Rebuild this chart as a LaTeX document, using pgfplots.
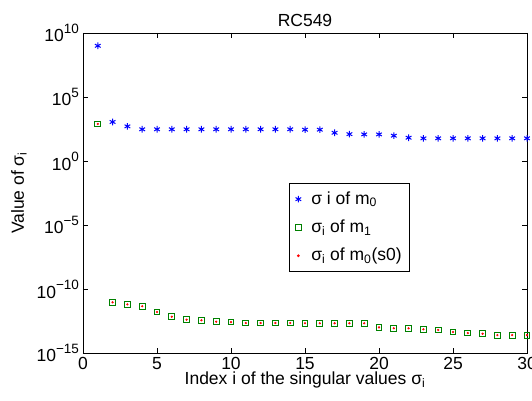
\documentclass[border=0pt]{standalone}
\usepackage{fontspec}
\setmainfont{Liberation Sans}
\usepackage{pgfplots}
\pgfplotsset{compat=1.18}
\newcommand{\ex}[1]{10\raisebox{0.5em}{\fontsize{13.5}{13.5}\selectfont #1}}
\begin{document}
\fontsize{17.5}{21}\selectfont
\begin{tikzpicture}
\begin{axis}[
  scale only axis, width=444pt, height=320pt,
  font=\fontsize{17.5}{21}\selectfont,
  xmin=0, xmax=30, ymode=log, log basis y=10, ymin=1e-15, ymax=1e10,
  xtick={0,5,...,30},
  ytick={1e-15,1e-10,1e-5,1,1e5,1e10},
  yticklabels={\ex{−15},\ex{−10},\ex{−5},\ex{0},\ex{5},\ex{10}},
  minor tick num=0, minor ytick={},
  tick align=inside, major tick length=5pt,
  /pgf/number format/assume math mode=true,
  tick label style={font=\fontsize{17.5}{21}\selectfont},
  xticklabel style={yshift=2pt},
  yticklabel style={xshift=2pt},
  axis line style={line width=0.9pt},
  every tick/.style={black, line width=0.7pt},
  title={RC549}, title style={yshift=-6pt},
  xlabel={Index i of the singular values σ\textsubscript{i}},
  ylabel={Value of σ\textsubscript{i}},
  xlabel style={yshift=9pt},
  ylabel style={yshift=-2pt},
  legend style={at={(0.464,0.531)}, anchor=north west, draw=black, line width=0.9pt,
    font=\fontsize{17.5}{21}\selectfont, row sep=9pt, inner xsep=6pt, inner ysep=6pt,
    legend cell align=left},
]
\addplot[only marks, color=blue, mark=asterisk, mark size=3.3pt, line width=1pt] coordinates {
(1,1e9) (2,1.12e3) (3,5.1e2) (4,3.0e2) (5,3.0e2) (6,3.0e2) (7,3.0e2) (8,3.0e2) (9,3.0e2) (10,3.0e2)
(11,3.0e2) (12,3.0e2) (13,3.0e2) (14,3.0e2) (15,2.8e2) (16,2.8e2) (17,1.6e2) (18,1.25e2) (19,1.2e2) (20,1.2e2)
(21,9.5e1) (22,6.6e1) (23,5.9e1) (24,5.9e1) (25,5.9e1) (26,5.9e1) (27,5.9e1) (28,5.9e1) (29,5.9e1) (30,5.9e1)};
\addlegendentry{\hspace{8pt}σ i of m\textsubscript{0}}
\addplot[only marks, color=green!50!black, mark=square, mark size=2.9pt, line width=1pt] coordinates {
(1,7.8e2) (2,9.1e-12) (3,6.3e-12) (4,4.5e-12) (5,1.6e-12) (6,6.9e-13) (7,4.0e-13) (8,3.6e-13) (9,2.8e-13) (10,2.6e-13)
(11,2.2e-13) (12,2.2e-13) (13,2.2e-13) (14,2.2e-13) (15,2.1e-13) (16,2.1e-13) (17,2.1e-13) (18,2.1e-13) (19,2.1e-13) (20,1.0e-13)
(21,8.5e-14) (22,8.5e-14) (23,7.1e-14) (24,6.3e-14) (25,4.4e-14) (26,3.6e-14) (27,3.2e-14) (28,2.5e-14) (29,2.5e-14) (30,2.5e-14)};
\addlegendentry{\hspace{8pt}σ\textsubscript{i} of m\textsubscript{1}}
\addplot[only marks, color=red, mark=*, mark size=0.9pt] coordinates {
(1,7.8e2) (2,9.1e-12) (3,6.3e-12) (4,4.5e-12) (5,1.6e-12) (6,6.9e-13) (7,4.0e-13) (8,3.6e-13) (9,2.8e-13) (10,2.6e-13)
(11,2.2e-13) (12,2.2e-13) (13,2.2e-13) (14,2.2e-13) (15,2.1e-13) (16,2.1e-13) (17,2.1e-13) (18,2.1e-13) (19,2.1e-13) (20,1.0e-13)
(21,8.5e-14) (22,8.5e-14) (23,7.1e-14) (24,6.3e-14) (25,4.4e-14) (26,3.6e-14) (27,3.2e-14) (28,2.5e-14) (29,2.5e-14) (30,2.5e-14)};
\addlegendentry{\hspace{8pt}σ\textsubscript{i} of m\textsubscript{0}(s0)}
\end{axis}
\pgfresetboundingbox
\useasboundingbox ([xshift=-83pt,yshift=-48pt]current axis.south west) rectangle ([xshift=5pt,yshift=33pt]current axis.north east);
\end{tikzpicture}
\end{document}
